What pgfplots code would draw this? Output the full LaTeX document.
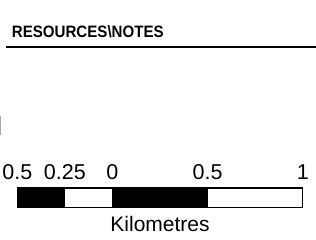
\documentclass[border=0pt]{standalone}
\usepackage{pgfplots}
\pgfplotsset{compat=1.18}
\usepackage{fontspec}
\setmainfont{Liberation Sans}
\begin{document}
\begin{tikzpicture}[x=1pt,y=1pt]
\useasboundingbox (0,0) rectangle (316,240);
\begin{axis}[
  at={(0,0)}, anchor=south west,
  scale only axis, width=316pt, height=240pt,
  xmin=-0.5909, xmax=1.0696,
  ymin=0, ymax=240, y dir=reverse,
  hide axis, clip=false,
]
% header rule
\addplot[black, line width=2.2pt] coordinates {(-0.5594,47) (1.0696,47)};
% gray artifact at left edge
\addplot[gray!70, line width=1pt] coordinates {(-0.5883,116) (-0.5883,135)};
% scale bar segments
\addplot[draw=black, line width=1.2pt, fill=black] coordinates {(-0.5,188) (-0.25,188) (-0.25,207.5) (-0.5,207.5)} -- cycle;
\addplot[draw=black, line width=1.2pt, fill=white] coordinates {(-0.25,188) (0,188) (0,207.5) (-0.25,207.5)} -- cycle;
\addplot[draw=black, line width=1.2pt, fill=black] coordinates {(0,188) (0.5,188) (0.5,207.5) (0,207.5)} -- cycle;
\addplot[draw=black, line width=1.2pt, fill=white] coordinates {(0.5,188) (1,188) (1,207.5) (0.5,207.5)} -- cycle;
% labels
\node[anchor=base west, inner sep=0pt, font=\fontsize{16.5}{19}\selectfont\bfseries] at (axis cs:-0.5294,37.3) {\scalebox{0.915}[1]{RESOURCES\textbackslash NOTES}};
\node[anchor=base, inner sep=0pt, font=\fontsize{21.5}{25}\selectfont] at (axis cs:-0.5,179.5) {0.5};
\node[anchor=base, inner sep=0pt, font=\fontsize{21.5}{25}\selectfont] at (axis cs:-0.25,179.5) {0.25};
\node[anchor=base, inner sep=0pt, font=\fontsize{21.5}{25}\selectfont] at (axis cs:0,179.5) {0};
\node[anchor=base, inner sep=0pt, font=\fontsize{21.5}{25}\selectfont] at (axis cs:0.5,179.5) {0.5};
\node[anchor=base, inner sep=0pt, font=\fontsize{21.5}{25}\selectfont] at (axis cs:1,179.5) {1};
\node[anchor=base, inner sep=0pt, font=\fontsize{21}{25}\selectfont] at (axis cs:0.25,231.5) {Kilometres};
\end{axis}
\end{tikzpicture}
\end{document}
